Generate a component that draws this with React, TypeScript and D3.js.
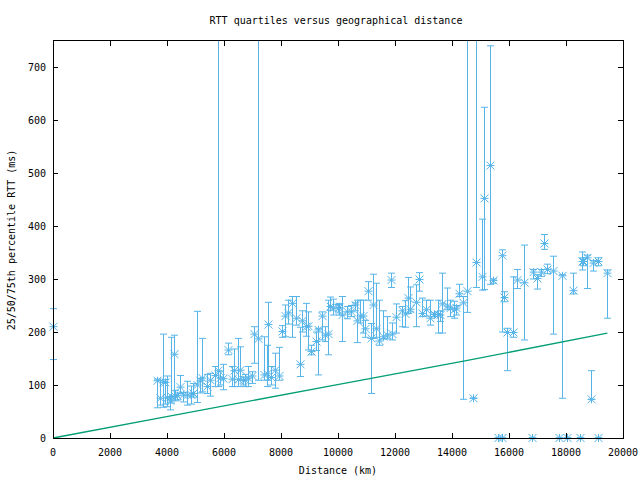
import React from "react";
import * as d3 from "d3";

const distances = [0,3660,3750,3870,3930,3990,4105,4140,4260,4280,4360,4470,4570,4690,4830,4920,5060,5160,5240,5390,5510,5670,5780,5870,5980,6150,6270,6360,6480,6560,6680,6740,6850,6970,7040,7180,7410,7500,7550,7650,7790,7940,8020,8140,8260,8370,8530,8680,8730,8870,8960,9050,9220,9310,9450,9540,9660,9720,9830,9990,10030,10130,10300,10460,10600,10660,10770,10870,10950,11060,11160,11240,11340,11440,11590,11710,11860,11900,12050,12230,12350,12470,12540,12750,12850,12960,13080,13230,13380,13500,13580,13660,13810,13930,14070,14140,14260,14370,14540,14750,14840,15060,15130,15340,15450,15600,15740,15750,15840,15940,16150,16270,16540,16820,16850,16980,17120,17240,17340,17550,17740,17850,18030,18260,18500,18550,18600,18750,18870,18960,19110,19130,19450];
const medians = [210,108,75,105,105,76,70,78,158,78,80,96,81,81,81,84,100,108,113,97,109,118,127,113,112,166,111,127,110,128,109,109,113,117,196,187,119,121,214,114,128,117,201,230,236,254,226,139,221,210,211,163,182,204,230,194,196,248,245,245,246,232,238,238,251,221,230,230,206,277,188,251,206,183,191,194,298,196,228,240,234,264,243,256,299,235,242,226,233,233,232,253,249,245,242,245,272,255,277,75,331,304,452,514,297,0,0,344,265,199,199,298,293,0,313,301,313,367,318,315,0,306,0,278,0,333,333,340,73,330,0,333,311];
const lows = [148,57,62,58,64,59,53,66,78,70,72,84,68,62,64,77,67,85,87,84,79,97,97,100,91,157,97,97,97,109,100,97,97,103,141,109,109,97,109,100,94,109,190,191,215,190,213,116,200,192,166,157,165,119,185,182,157,241,232,236,232,182,225,229,240,180,217,198,190,260,84,188,190,175,187,187,284,185,198,210,209,235,238,210,277,229,230,213,229,198,220,198,242,229,226,232,267,73,237,75,284,279,280,290,292,0,0,200,257,127,190,282,185,0,300,281,305,356,310,196,0,75,0,272,0,317,325,282,73,315,0,325,226];
const highs = [244,111,108,196,110,117,78,190,194,90,85,118,86,107,98,103,239,112,188,120,122,135,800,125,139,179,135,168,188,172,115,120,135,125,210,800,191,175,256,135,160,171,212,251,260,267,267,209,240,254,238,175,200,207,238,210,260,266,262,252,254,267,248,250,255,260,260,260,222,295,216,309,292,260,240,229,311,217,253,248,259,303,285,289,312,264,260,260,236,260,240,311,283,260,258,250,290,267,800,75,800,413,624,740,300,0,0,355,276,207,304,318,364,0,318,308,318,384,328,343,0,308,0,311,0,351,340,345,127,335,0,340,317];

const lineDist = [0, 3660, 9700, 14500, 19450];
const lineRtt = [0, 37, 98, 146, 198];

const xTicks = [0,2000,4000,6000,8000,10000,12000,14000,16000,18000,20000];
const yTicks = [0,100,200,300,400,500,600,700];

const title = "RTT quartiles versus geographical distance";
const xLabel = "Distance (km)";
const yLabel = "25/50/75th percentile RTT (ms)";

export default function App() {
  const W = 640, H = 480;
  const L = 53, R = 623, T = 40.5, B = 438;
  const x = d3.scaleLinear().domain([0, 20000]).range([L, R]);
  const y = d3.scaleLinear().domain([0, 750]).range([B, T]);
  const blue = "#56b4e9";
  const green = "#009e73";
  const font = "'DejaVu Sans Mono', monospace";
  const line = d3.line<number>().x((_, i) => x(lineDist[i])).y((_, i) => y(lineRtt[i]));
  const s = 4;
  const c = 3.5;
  return (
    <svg width={W} height={H} style={{ position: "absolute", left: 0, top: 0, background: "#fff" }} fontFamily={font} fontSize={10}>
      <defs>
        <clipPath id="clipTop">
          <rect x={0} y={T} width={W} height={H - T} />
        </clipPath>
      </defs>
      <rect x={0} y={0} width={W} height={H} fill="#fff" />
      <text x={336} y={24} textAnchor="middle" fill="#000">{title}</text>
      <g clipPath="url(#clipTop)" stroke={blue} strokeWidth={1} fill="none">
        {distances.map((d, i) => {
          const px = Math.round(x(d)) + 0.5;
          const lo = y(lows[i]);
          const hi = y(highs[i]);
          const m = y(medians[i]);
          return (
            <g key={i}>
              <line x1={px} x2={px} y1={lo} y2={hi} />
              <line x1={px - c} x2={px + c} y1={lo} y2={lo} />
              <line x1={px - c} x2={px + c} y1={hi} y2={hi} />
              <line x1={px - s} x2={px + s} y1={m} y2={m} />
              <line x1={px} x2={px} y1={m - s} y2={m + s} />
              <line x1={px - s} x2={px + s} y1={m - s} y2={m + s} />
              <line x1={px - s} x2={px + s} y1={m + s} y2={m - s} />
            </g>
          );
        })}
      </g>
      <path d={line(lineDist) || ""} stroke={green} strokeWidth={1.3} fill="none" />
      <g stroke="#000" strokeWidth={1} shapeRendering="crispEdges">
        <rect x={L} y={T} width={R - L} height={B - T} fill="none" />
        {xTicks.map((t) => (
          <g key={"x" + t}>
            <line x1={x(t)} x2={x(t)} y1={B} y2={B - 5} />
            <line x1={x(t)} x2={x(t)} y1={T} y2={T + 5} />
          </g>
        ))}
        {yTicks.map((t) => (
          <g key={"y" + t}>
            <line x1={L} x2={L + 5} y1={y(t)} y2={y(t)} />
            <line x1={R} x2={R - 5} y1={y(t)} y2={y(t)} />
          </g>
        ))}
      </g>
      {xTicks.map((t) => (
        <text key={"xl" + t} x={x(t)} y={456} textAnchor="middle" fill="#000">{t}</text>
      ))}
      {yTicks.map((t) => (
        <text key={"yl" + t} x={46} y={y(t) + 4} textAnchor="end" fill="#000">{t}</text>
      ))}
      <text x={338} y={474} textAnchor="middle" fill="#000">{xLabel}</text>
      <text transform={`translate(15,240) rotate(-90)`} textAnchor="middle" fill="#000">{yLabel}</text>
    </svg>
  );
}
